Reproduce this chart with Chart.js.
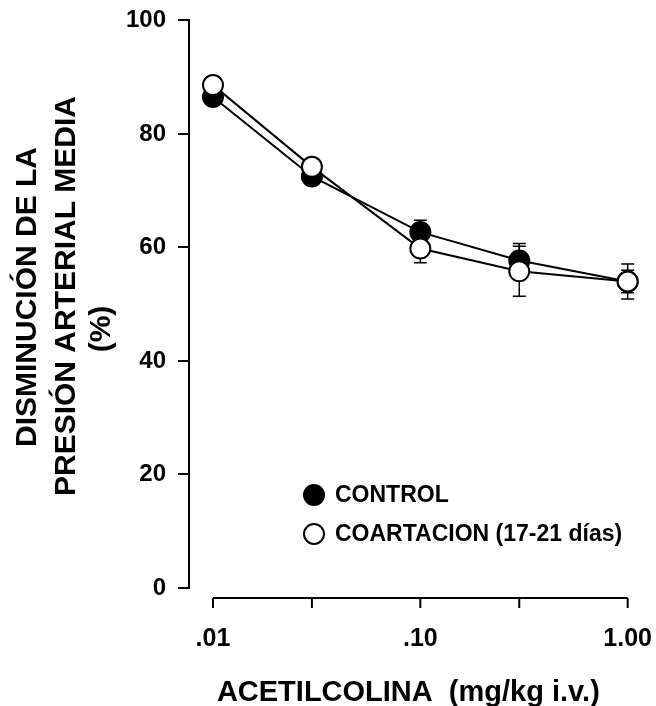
<!DOCTYPE html>
<html>
<head>
<meta charset="utf-8">
<script src="https://cdn.jsdelivr.net/npm/chart.js"></script>
<style>
  html, body { margin: 0; padding: 0; background: #fff; }
  #wrap { width: 656px; height: 706px; position: relative; }
</style>
</head>
<body>
<div id="wrap"><canvas id="chart"></canvas></div>
<script>
// data
const doses = [0.01, 0.03, 0.1, 0.3, 1];
const doseTickLabels = { 0.01: '.01', 0.1: '.10', 1: '1.00' };
const controlMeans = [86.5, 72.5, 62.7, 57.7, 54.0];
const controlSem = [1.0, 1.0, 2.1, 3.0, 2.0];
const coartMeans = [88.6, 74.2, 59.8, 55.8, 54.0];
const coartSem = [1.0, 1.0, 2.5, 4.4, 3.1];
const seriesNames = ['CONTROL', 'COARTACION (17-21 días)'];
const yTitleLines = ['DISMINUCIÓN DE LA', 'PRESIÓN ARTERIAL MEDIA', '(%)'];

const FONT = '"Liberation Sans", Arial, Helvetica, sans-serif';

// error bars, drawn under the markers
const errorBars = {
    id: 'errorBars',
    beforeDatasetsDraw(chart) {
        const ctx = chart.ctx;
        const x = chart.scales.x, y = chart.scales.y;
        const sets = [[controlMeans, controlSem], [coartMeans, coartSem]];
        ctx.save();
        ctx.strokeStyle = '#000';
        ctx.lineWidth = 1.5;
        sets.forEach(([means, sem]) => {
            doses.forEach((d, i) => {
                const px = x.getPixelForValue(d);
                const top = y.getPixelForValue(means[i] + sem[i]);
                const bot = y.getPixelForValue(means[i] - sem[i]);
                ctx.beginPath();
                ctx.moveTo(px, top); ctx.lineTo(px, bot);
                ctx.moveTo(px - 6.5, top); ctx.lineTo(px + 6.5, top);
                ctx.moveTo(px - 6.5, bot); ctx.lineTo(px + 6.5, bot);
                ctx.stroke();
            });
        });
        ctx.restore();
    }
};

// detached x axis line with ticks at every dose, legend inside the plot, y title
const extras = {
    id: 'extras',
    afterDraw(chart) {
        const ctx = chart.ctx;
        const x = chart.scales.x;
        const area = chart.chartArea;
        const ay = area.bottom + 10;
        ctx.save();
        ctx.strokeStyle = '#000';
        ctx.lineWidth = 2;
        ctx.beginPath();
        ctx.moveTo(x.getPixelForValue(doses[0]), ay);
        ctx.lineTo(x.getPixelForValue(doses[doses.length - 1]), ay);
        doses.forEach(d => {
            const px = x.getPixelForValue(d);
            ctx.moveTo(px, ay);
            ctx.lineTo(px, ay + 10);
        });
        ctx.stroke();

        // legend
        const lx = 314, ly = [495, 534];
        ctx.lineWidth = 2;
        ctx.font = 'bold 23px ' + FONT;
        ctx.textBaseline = 'middle';
        seriesNames.forEach((name, i) => {
            ctx.beginPath();
            ctx.arc(lx, ly[i], 10, 0, Math.PI * 2);
            ctx.fillStyle = i === 0 ? '#000' : '#fff';
            ctx.fill();
            ctx.stroke();
            ctx.fillStyle = '#000';
            ctx.fillText(name, lx + 21, ly[i] + 1);
        });

        // y title, three rotated lines
        const tx = [28, 67, 102], ty = [297, 296, 329];
        ctx.font = 'bold 30px ' + FONT;
        ctx.textAlign = 'center';
        yTitleLines.forEach((line, i) => {
            ctx.save();
            ctx.translate(tx[i], ty[i]);
            ctx.rotate(-Math.PI / 2);
            ctx.fillText(line, 0, 0);
            ctx.restore();
        });
        ctx.restore();
    }
};

const xMin = 0.01 / Math.pow(10, 24 / 207.5);

new Chart(document.getElementById('chart'), {
    type: 'line',
    data: {
        datasets: [
            {
                label: seriesNames[1],
                data: doses.map((d, i) => ({ x: d, y: coartMeans[i] })),
                borderColor: '#000',
                borderWidth: 2,
                pointRadius: 10,
                pointBackgroundColor: '#fff',
                pointBorderColor: '#000',
                pointBorderWidth: 2,
                tension: 0,
                order: 0,
            },
            {
                label: seriesNames[0],
                data: doses.map((d, i) => ({ x: d, y: controlMeans[i] })),
                borderColor: '#000',
                borderWidth: 2,
                pointRadius: 10,
                pointBackgroundColor: '#000',
                pointBorderColor: '#000',
                pointBorderWidth: 2,
                tension: 0,
                order: 1,
            },
        ],
    },
    options: {
        responsive: true,
        maintainAspectRatio: false,
        animation: false,
        clip: false,
        layout: { padding: { top: 20, right: 0, left: 0, bottom: 0 } },
        plugins: {
            legend: { display: false },
            tooltip: { enabled: false },
        },
        scales: {
            x: {
                type: 'logarithmic',
                min: xMin,
                max: 1,
                afterFit: (scale) => { scale.height = 118; },
                grid: { display: false, tickLength: 32 },
                border: { display: false },
                afterBuildTicks: (scale) => {
                    scale.ticks = [0.01, 0.1, 1].map(v => ({ value: v }));
                },
                ticks: {
                    autoSkip: false,
                    maxRotation: 0,
                    padding: 4,
                    color: '#000',
                    font: { family: FONT, size: 25, weight: 'bold' },
                    callback: (v) => doseTickLabels[v] || '',
                },
                title: {
                    display: true,
                    text: 'ACETILCOLINA  (mg/kg i.v.)',
                    color: '#000',
                    font: { family: FONT, size: 29, weight: 'bold', lineHeight: 1 },
                    padding: { top: 0, bottom: -1 },
                },
            },
            y: {
                min: 0,
                max: 100,
                afterFit: (scale) => { scale.width = 189; },
                grid: {
                    drawOnChartArea: false,
                    tickLength: 11,
                    color: '#000',
                    lineWidth: 2,
                },
                border: { display: true, color: '#000', width: 2 },
                ticks: {
                    stepSize: 20,
                    padding: 12,
                    color: '#000',
                    font: { family: FONT, size: 24, weight: 'bold', lineHeight: 0.7 },
                },
                title: { display: false },
            },
        },
    },
    plugins: [errorBars, extras],
});
</script>
</body>
</html>
